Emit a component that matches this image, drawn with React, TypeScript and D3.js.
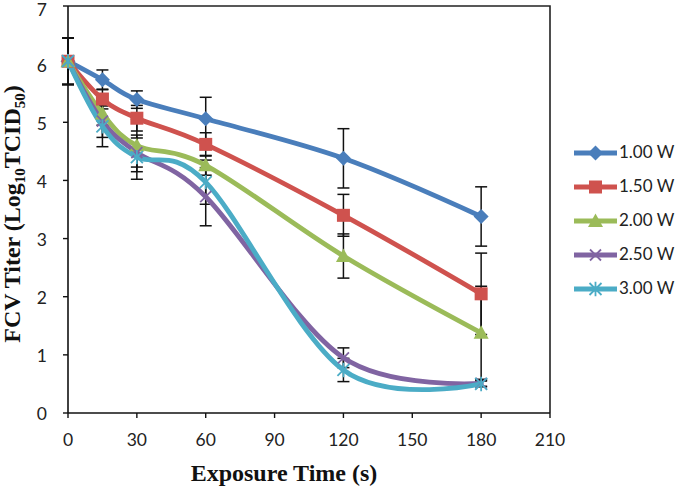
import React from "react";
import * as d3 from "d3";

const times = [0, 15, 30, 60, 120, 180];
const seriesNames = ["1.00 W", "1.50 W", "2.00 W", "2.50 W", "3.00 W"];
const w100 = [6.05, 5.73, 5.39, 5.06, 4.38, 3.38];
const w150 = [6.05, 5.4, 5.07, 4.62, 3.4, 2.05];
const w200 = [6.05, 5.15, 4.6, 4.26, 2.7, 1.38];
const w250 = [6.05, 5.02, 4.48, 3.72, 0.95, 0.51];
const w300 = [6.05, 4.93, 4.4, 3.97, 0.74, 0.5];
const e100 = [0.4, 0.17, 0.15, 0.37, 0.51, 0.51];
const e150 = [0.4, 0.17, 0.22, 0.2, 0.36, 0.7];
const e200 = [0.4, 0.2, 0.45, 0.17, 0.38, 0.8];
const e250 = [0.4, 0.28, 0.25, 0.5, 0.17, 0.05];
const e300 = [0.4, 0.35, 0.38, 0.38, 0.2, 0.05];
const xTicks = [0, 30, 60, 90, 120, 150, 180, 210];
const yTicks = [0, 1, 2, 3, 4, 5, 6, 7];

const colors = ["#4A7EBB", "#CF524E", "#9BBB59", "#8064A2", "#4BACC6"];
const markers = ["diamond", "square", "triangle", "x", "star"];
const values = [w100, w150, w200, w250, w300];
const errors = [e100, e150, e200, e250, e300];

const L = 68, R = 550, T = 6, B = 413;
const x = d3.scaleLinear().domain([0, 210]).range([L, R]);
const y = d3.scaleLinear().domain([0, 7]).range([B, T]);
const line = d3
  .line<[number, number]>()
  .x((d) => x(d[0]))
  .y((d) => y(d[1]))
  .curve(d3.curveCardinal.tension(0));

function Marker({ kind, cx, cy, color }: { kind: string; cx: number; cy: number; color: string }) {
  if (kind === "diamond") {
    const s = 7.5;
    return <path d={`M${cx},${cy - s}L${cx + s},${cy}L${cx},${cy + s}L${cx - s},${cy}Z`} fill={color} />;
  }
  if (kind === "square") {
    const s = 6.5;
    return <rect x={cx - s} y={cy - s} width={2 * s} height={2 * s} fill={color} />;
  }
  if (kind === "triangle") {
    const s = 7.5;
    return <path d={`M${cx},${cy - s}L${cx + s},${cy + s * 0.8}L${cx - s},${cy + s * 0.8}Z`} fill={color} />;
  }
  if (kind === "x") {
    const s = 5.5;
    return (
      <path
        d={`M${cx - s},${cy - s}L${cx + s},${cy + s}M${cx - s},${cy + s}L${cx + s},${cy - s}`}
        stroke={color}
        strokeWidth={1.8}
      />
    );
  }
  const s = 6;
  return (
    <path
      d={`M${cx - s},${cy - s}L${cx + s},${cy + s}M${cx - s},${cy + s}L${cx + s},${cy - s}M${cx},${cy - s * 1.2}L${cx},${cy + s * 1.2}`}
      stroke={color}
      strokeWidth={1.8}
    />
  );
}

export default function App() {
  const tickFont = "Lato, 'Open Sans', sans-serif";
  const titleFont = "'Liberation Serif', 'Times New Roman', serif";
  return (
    <svg
      width={680}
      height={489}
      style={{ position: "absolute", left: 0, top: 0, background: "#fff" }}
    >
      <rect x={0} y={0} width={680} height={489} fill="#fff" />
      {/* frame */}
      <path d={`M${L},${T}H${R}V${B}`} fill="none" stroke="#222" strokeWidth={1.6} />
      {/* axes */}
      <line x1={L} x2={R} y1={B} y2={B} stroke="#111" strokeWidth={1.6} />
      <line x1={L} x2={L} y1={T} y2={B} stroke="#111" strokeWidth={1.6} />
      {xTicks.map((t) => (
        <g key={"xt" + t}>
          <line x1={x(t)} x2={x(t)} y1={B} y2={B + 5} stroke="#111" strokeWidth={1.4} />
          <text x={x(t)} y={442} textAnchor="middle" dominantBaseline="middle" fontFamily={tickFont} fontSize={17.5} fill="#222">
            {t}
          </text>
        </g>
      ))}
      {yTicks.map((t) => (
        <g key={"yt" + t}>
          <line x1={L - 5} x2={L} y1={y(t)} y2={y(t)} stroke="#111" strokeWidth={1.4} />
          <text x={47} y={Math.max(y(t) + 3, 12)} textAnchor="end" dominantBaseline="middle" fontFamily={tickFont} fontSize={17.5} fill="#222">
            {t}
          </text>
        </g>
      ))}
      {/* error bars */}
      {values.map((vals, si) =>
        vals.map((v, i) => {
          const e = errors[si][i];
          const cx = x(times[i]);
          return (
            <g key={`e${si}-${i}`} stroke="#111" strokeWidth={1.5}>
              <line x1={cx} x2={cx} y1={y(v + e)} y2={y(v - e)} />
              <line x1={cx - 6} x2={cx + 6} y1={y(v + e)} y2={y(v + e)} />
              <line x1={cx - 6} x2={cx + 6} y1={y(v - e)} y2={y(v - e)} />
            </g>
          );
        })
      )}
      {/* lines */}
      {values.map((vals, si) => (
        <path
          key={"l" + si}
          d={line(vals.map((v, i) => [times[i], v] as [number, number])) || ""}
          fill="none"
          stroke={colors[si]}
          strokeWidth={4.8}
          strokeLinejoin="round"
          strokeLinecap="round"
        />
      ))}
      {/* markers */}
      {values.map((vals, si) =>
        vals.map((v, i) => (
          <Marker key={`m${si}-${i}`} kind={markers[si]} cx={x(times[i])} cy={y(v)} color={colors[si]} />
        ))
      )}
      {/* legend */}
      {seriesNames.map((n, si) => {
        const ly = 153 + si * 34;
        return (
          <g key={"lg" + si}>
            <line x1={574} x2={617} y1={ly} y2={ly} stroke={colors[si]} strokeWidth={4.8} />
            <Marker kind={markers[si]} cx={595.5} cy={ly} color={colors[si]} />
            <text x={619} y={ly + 1} dominantBaseline="middle" fontFamily={tickFont} fontSize={17} fill="#222">
              {n}
            </text>
          </g>
        );
      })}
      {/* titles */}
      <text x={284} y={481} textAnchor="middle" fontFamily={titleFont} fontWeight="bold" fontSize={24} fill="#111">
        Exposure Time (s)
      </text>
      <text
        transform="translate(20,214) rotate(-90)"
        textAnchor="middle"
        fontFamily={titleFont}
        fontWeight="bold"
        fontSize={24}
        fill="#111"
      >
        FCV Titer (Log
        <tspan fontSize={15} dy={5}>10</tspan>
        <tspan dy={-5}>TCID</tspan>
        <tspan fontSize={15} dy={5}>50</tspan>
        <tspan dy={-5}>)</tspan>
      </text>
    </svg>
  );
}
